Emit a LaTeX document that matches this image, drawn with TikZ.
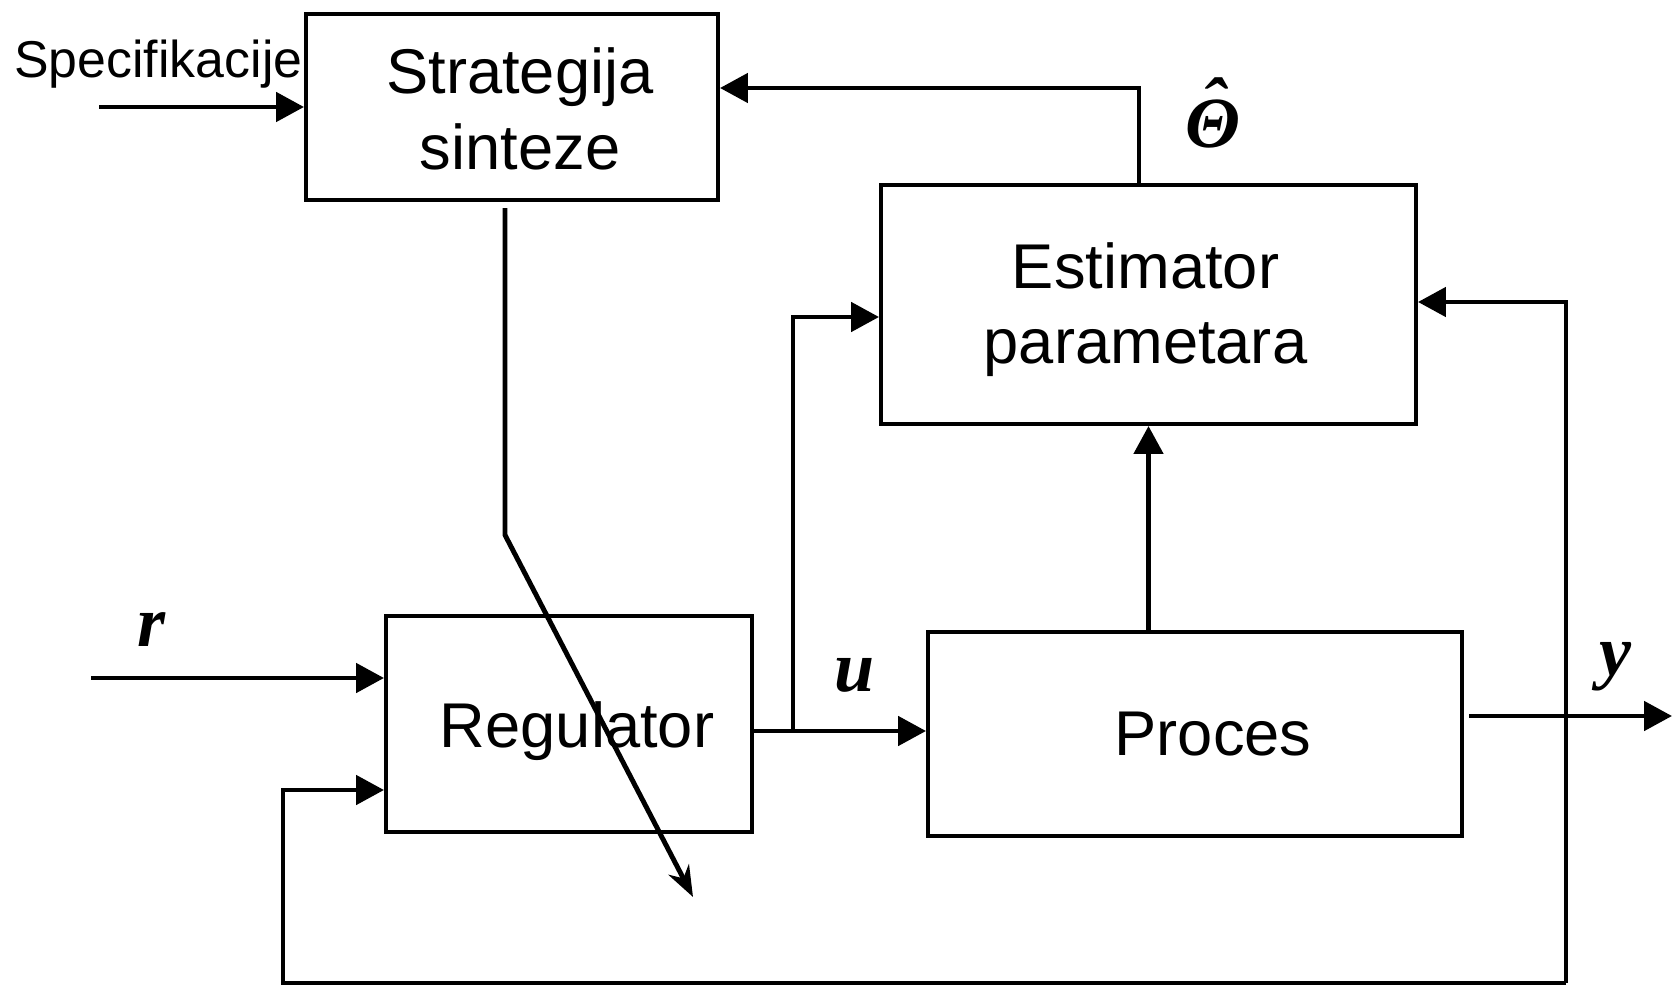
\documentclass[tikz,border=0pt]{standalone}
\usepackage{fontspec}
\setmainfont{Liberation Sans}
\newfontfamily\symfont{Liberation Serif}
\usetikzlibrary{arrows.meta}

\begin{document}
\begin{tikzpicture}[x=0.02cm, y=-0.02cm,
    blok/.style={draw, line width=2.3pt, inner sep=0pt},
    natpis/.style={inner sep=0pt, align=center, font=\fontsize{36}{43}\selectfont},
    strel/.style={line width=2.8pt, -{Triangle[length=0.56cm, width=0.58cm]}},
    kosa/.style={line width=2.8pt, -{Stealth[length=0.62cm, width=0.46cm, inset=0.2cm]}},
    sym/.style={inner sep=0pt, anchor=base, font=\symfont\bfseries\itshape\fontsize{41}{41}\selectfont}]
    \useasboundingbox (0,0) rectangle (1672,986);

    % blokovi
    \node[blok, minimum width=8.24cm, minimum height=3.72cm] (strat) at (512,107) {};
    \node[blok, minimum width=10.7cm, minimum height=4.78cm] (est) at (1148.5,304.5) {};
    \node[blok, minimum width=7.32cm, minimum height=4.32cm] (reg) at (569,724) {};
    \node[blok, minimum width=10.68cm, minimum height=4.08cm] (proc) at (1195,734) {};

    \node[natpis] (strat-t) at ([shift={(8,2)}]strat.center) {Strategija\\sinteze};
    \node[natpis] (est-t) at ([shift={(-3,5)}]est.center) {Estimator\\parametara};
    \node[natpis] (reg-t) at ([shift={(8,7)}]reg.center) {Regulator};
    \node[natpis] (proc-t) at ([shift={(18,0)}]proc.center) {Proces};

    \node[anchor=west, inner sep=0pt, font=\fontsize{29.5}{30}\selectfont] (spec) at (14,64) {Specifikacije};

    % oznake signala
    \node[sym] (r) at (152,646) {r};
    \node[sym] (u) at (855,691) {u};
    \node[sym] (y) at (1615,675) {y};
    \node[sym] (theta) at (1213,148) {\ooalign{Θ\cr\hidewidth\raisebox{0.27em}{ˆ}\hidewidth\cr}};

    \coordinate (specin) at (99,107);
    \coordinate (thetaout) at (1139,88);
    \coordinate (knee) at (505,535);
    \coordinate (adapt) at (693,897);
    \coordinate (rin) at (91,678);
    \coordinate (ubr) at (793,731);
    \coordinate (uest) at (793,317);
    \coordinate (yout) at (1672,716);
    \coordinate (fbtop) at (1566,302);
    \coordinate (fbr) at (1566,983);
    \coordinate (fbl) at (283,983);
    \coordinate (fbreg) at (283,790);

    \draw[strel] (specin) -- (strat);
    \draw[strel] (thetaout |- est.north) -- (thetaout) -- (thetaout -| strat.east);
    \draw[kosa] (knee |- strat.south) ++(0,6) -- (knee) -- (adapt);
    \draw[strel] (rin) -- (rin -| reg.west);
    \draw[strel] (reg.east |- ubr) -- (ubr -| proc.west);
    \draw[strel] (ubr) -- (uest) -- (uest -| est.west);
    \draw[strel] (proc.north -| est.south) -- (est.south);
    \draw[strel] (proc.east |- yout) ++(5,0) -- (yout);
    \draw[strel] (fbr) -- (fbtop) -- (fbtop -| est.east);
    \draw[strel] (fbr) -- (fbl) -- (fbreg) -- (fbreg -| reg.west);
\end{tikzpicture}
\end{document}
